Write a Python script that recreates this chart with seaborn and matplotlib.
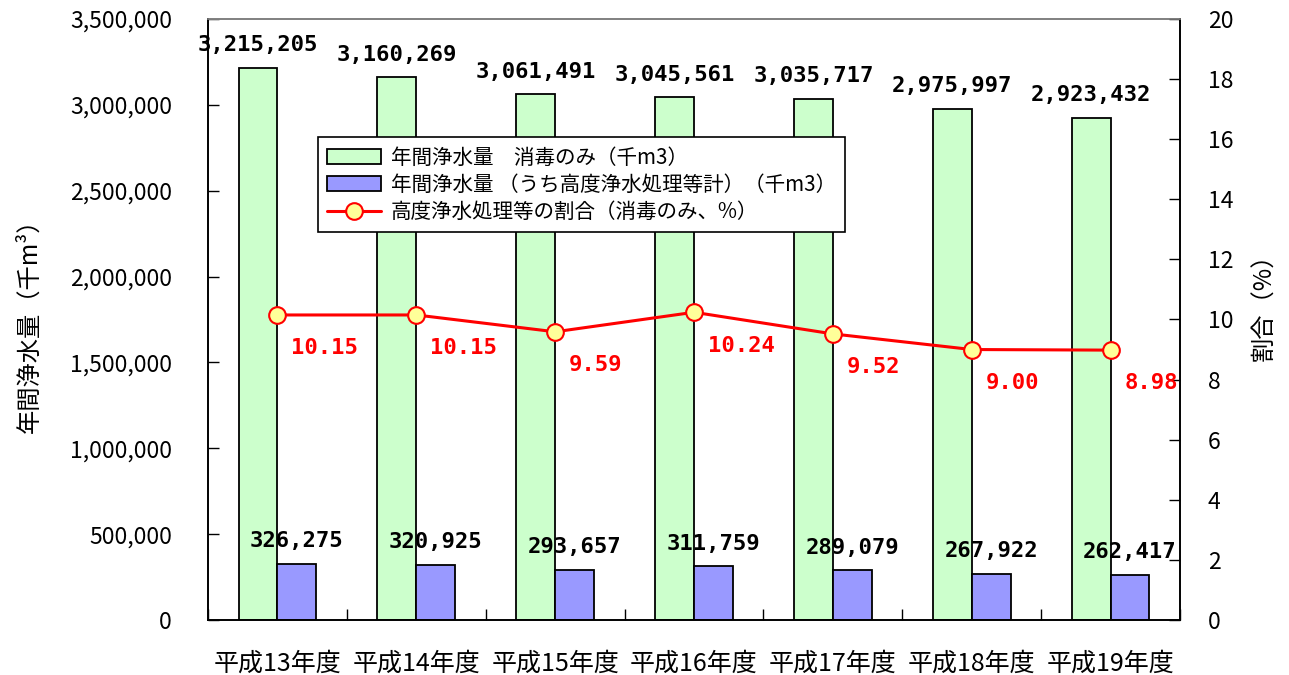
import numpy as np
import pandas as pd
import matplotlib.pyplot as plt
import matplotlib.ticker as mticker
from matplotlib.lines import Line2D
import seaborn as sns

years = ["平成13年度", "平成14年度", "平成15年度", "平成16年度",
         "平成17年度", "平成18年度", "平成19年度"]
disinfect_only = [3215205, 3160269, 3061491, 3045561, 3035717, 2975997, 2923432]
advanced_total = [326275, 320925, 293657, 311759, 289079, 267922, 262417]
advanced_ratio = [10.15, 10.15, 9.59, 10.24, 9.52, 9.00, 8.98]

series_names = ["年間浄水量\u3000消毒のみ（千m3）",
                "年間浄水量 （うち高度浄水処理等計）（千m3）"]
line_name = "高度浄水処理等の割合（消毒のみ、%）"

df = pd.DataFrame({
    "year": years * 2,
    "value": disinfect_only + advanced_total,
    "series": [series_names[0]] * len(years) + [series_names[1]] * len(years),
})

sns.set_theme(style="white")
plt.rcParams["font.family"] = ["Noto Sans CJK JP", "DejaVu Sans"]
plt.rcParams["text.color"] = "black"
plt.rcParams["axes.labelcolor"] = "black"
plt.rcParams["xtick.color"] = "black"
plt.rcParams["ytick.color"] = "black"

GREEN = "#CCFFCC"
BLUE = "#9999FF"
RED = "#FF0000"

fig = plt.figure(figsize=(12.89, 6.75), dpi=100)
ax = fig.add_axes([0.1614, 0.0815, 0.754, 0.8904])

sns.barplot(data=df, x="year", y="value", hue="series", palette=[GREEN, BLUE],
            width=0.56, edgecolor="black", linewidth=1.3, saturation=1,
            ax=ax)
bar_handles, bar_labels = ax.get_legend_handles_labels()
ax.get_legend().remove()

ax.set_ylim(0, 3500000)
ax.set_xlim(-0.5, len(years) - 0.5)
ax.yaxis.set_major_locator(mticker.MultipleLocator(500000))
ax.yaxis.set_major_formatter(mticker.FuncFormatter(lambda v, p: f"{int(v):,}"))
ax.set_xlabel("")
ax.set_ylabel("年間浄水量（千m³）", fontsize=17.5)
ax.yaxis.set_label_coords(-0.17, 0.5)
ax.tick_params(axis="y", direction="in", length=8, width=1, labelsize=16.5, pad=26,
               left=True)
ax.tick_params(axis="x", which="major", length=0, labelsize=18, pad=22)
ax.set_xticks(np.arange(len(years) + 1) - 0.5, minor=True)
ax.tick_params(axis="x", which="minor", direction="in", length=8, width=1,
               bottom=True)

# value labels on bars
for i, (g, b) in enumerate(zip(disinfect_only, advanced_total)):
    ax.annotate(f"{g:,}", xy=(i - 0.14, g), xytext=(0, 9), textcoords="offset points",
                ha="center", va="bottom", fontsize=16, fontweight="bold",
                family="DejaVu Sans Mono", color="black")
    ax.annotate(f"{b:,}", xy=(i + 0.14, b), xytext=(0, 9), textcoords="offset points",
                ha="center", va="bottom", fontsize=16, fontweight="bold",
                family="DejaVu Sans Mono", color="black")

ax2 = ax.twinx()
sns.lineplot(x=np.arange(len(years)), y=advanced_ratio, ax=ax2, color=RED,
             linewidth=2.2, marker="o", markersize=12, markerfacecolor="#FFFF99",
             markeredgecolor=RED, markeredgewidth=1.5)
ax2.set_ylim(0, 20)
ax2.yaxis.set_major_locator(mticker.MultipleLocator(2))
ax2.set_ylabel("割合（%）", fontsize=17.5, rotation=90)
ax2.yaxis.set_label_coords(1.073, 0.53)
ax2.tick_params(axis="y", direction="in", length=8, width=1, labelsize=16.5, pad=20,
                right=True)
ax2.grid(False)
ax.grid(False)

for i, r in enumerate(advanced_ratio):
    ax2.annotate(f"{r:.2f}", xy=(i, r), xytext=(10, -24), textcoords="offset points",
                 ha="left", va="center", fontsize=16, fontweight="bold",
                 color=RED, family="DejaVu Sans Mono")

for a in (ax, ax2):
    for side in ["left", "bottom", "right"]:
        a.spines[side].set_color("black")
        a.spines[side].set_linewidth(1.2)
    a.spines["top"].set_color("#808080")
    a.spines["top"].set_linewidth(1.2)

line_handle = Line2D([], [], color=RED, linewidth=2.2, marker="o", markersize=12,
                     markerfacecolor="#FFFF99", markeredgecolor=RED,
                     markeredgewidth=1.5)
leg = ax2.legend(bar_handles + [line_handle], bar_labels + [line_name],
                 loc="upper left", bbox_to_anchor=(0.113, 0.803), fontsize=14.8,
                 frameon=True, fancybox=False, edgecolor="black",
                 framealpha=1, borderpad=0.45, labelspacing=0.25,
                 handlelength=2.6, handletextpad=0.5, borderaxespad=0)
leg.get_frame().set_linewidth(1.2)

fig.savefig("out.png", dpi=100)
